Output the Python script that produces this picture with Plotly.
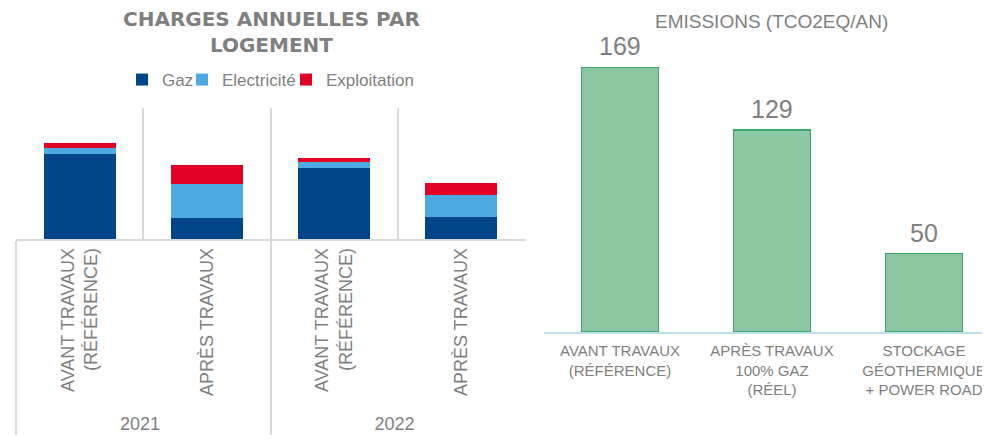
import plotly.graph_objects as go

# ---- Left chart data (charges annuelles par logement) ----
years = ["2021", "2021", "2022", "2022"]
phases = ["AVANT TRAVAUX<br>(RÉFÉRENCE)", "APRÈS TRAVAUX",
          "AVANT TRAVAUX<br>(RÉFÉRENCE)", "APRÈS TRAVAUX"]
gaz = [850, 213, 707, 223]
electricite = [57, 333, 60, 217]
exploitation = [50, 190, 47, 123]

# ---- Right chart data (emissions) ----
scenarios = ["AVANT TRAVAUX<br>(RÉFÉRENCE)",
             "APRÈS TRAVAUX<br>100% GAZ<br>(RÉEL)",
             "STOCKAGE<br>GÉOTHERMIQUE<br>+ POWER ROAD"]
emissions = [169, 129, 50]

GRAY = "#7f7f7f"
GRID = "#d9d9d9"
FONT = "Liberation Sans, Arial, sans-serif"

# page body has an 8px margin: figure is placed at (8, 8) in the window
OFF = 8
W, H = 990 - OFF, 441 - OFF


def px(x):
    return (x - OFF) / W


def py(y):
    return (441 - y) / H


fig = go.Figure()

series = [("Gaz", gaz, "#00458a", "legend", 122),
          ("Electricité", electricite, "#4daae0", "legend2", 182),
          ("Exploitation", exploitation, "#e20024", "legend3", 286)]
for name, vals, col, leg, _ in series:
    fig.add_trace(go.Bar(
        x=[years, phases], y=vals, name=name, marker_color=col,
        marker_line_width=0, width=0.567, xaxis="x", yaxis="y",
        legend=leg, hoverinfo="skip"))

fig.add_trace(go.Bar(
    x=scenarios, y=emissions, xaxis="x2", yaxis="y2", showlegend=False,
    width=0.507, marker=dict(color="#8bc7a2", line=dict(color="#3ba66e", width=1.5)),
    hoverinfo="skip"))

for s, v in zip(scenarios, emissions):
    fig.add_annotation(x=s, y=v, xref="x2", yref="y2", text=str(v),
                       showarrow=False, yanchor="bottom", yshift=5,
                       font=dict(size=25, color=GRAY, family=FONT))

fig.add_annotation(text="<b>CHARGES ANNUELLES PAR<br>LOGEMENT</b>",
                   x=px(271), y=py(32), xref="paper", yref="paper",
                   xanchor="center", yanchor="middle", showarrow=False,
                   font=dict(size=20, color=GRAY, family="DejaVu Sans, sans-serif"))
fig.add_annotation(text="EMISSIONS (TCO2EQ/AN)",
                   x=px(771), y=py(22), xref="paper", yref="paper",
                   xanchor="center", yanchor="middle", showarrow=False,
                   font=dict(size=19, color=GRAY, family=FONT))

legends = {}
for name, vals, col, leg, lx in series:
    legends[leg] = dict(orientation="h", x=px(lx), xanchor="left",
                        y=py(80), yanchor="middle", bgcolor="rgba(0,0,0,0)",
                        font=dict(size=17, color=GRAY), itemwidth=30)

fig.update_layout(
    width=W, height=H,
    margin=dict(l=0, r=0, t=0, b=0, autoexpand=False),
    paper_bgcolor="white", plot_bgcolor="white",
    barmode="stack",
    font=dict(family=FONT, color=GRAY),
    xaxis=dict(domain=[px(16), px(525)], type="multicategory", anchor="y",
               automargin=False,
               tickson="boundaries", showgrid=True, gridcolor=GRID, gridwidth=1.5,
               showline=True, linecolor=GRID, linewidth=1.5,
               showdividers=True, dividercolor=GRID, dividerwidth=1.5,
               ticks="", tickangle=-90,
               tickfont=dict(size=18, color=GRAY)),
    yaxis=dict(domain=[py(239), py(108)], range=[0, 1310],
               anchor="x", automargin=False,
               showgrid=False, showticklabels=False, zeroline=False, ticks=""),
    xaxis2=dict(domain=[px(544), 1.0], range=[-0.5, -0.5 + 446 / 152],
                anchor="y2", automargin=False,
                showline=True, linecolor="#bfe0f5", linewidth=2,
                ticks="", ticklabelstandoff=4, showgrid=False,
                tickfont=dict(size=15, color=GRAY)),
    yaxis2=dict(domain=[py(332), py(40)], range=[0, 186.5],
                anchor="x2", automargin=False,
                showgrid=False, showticklabels=False, zeroline=False,
                ticks=""),
    **legends,
)

fig.write_html("out.html")
